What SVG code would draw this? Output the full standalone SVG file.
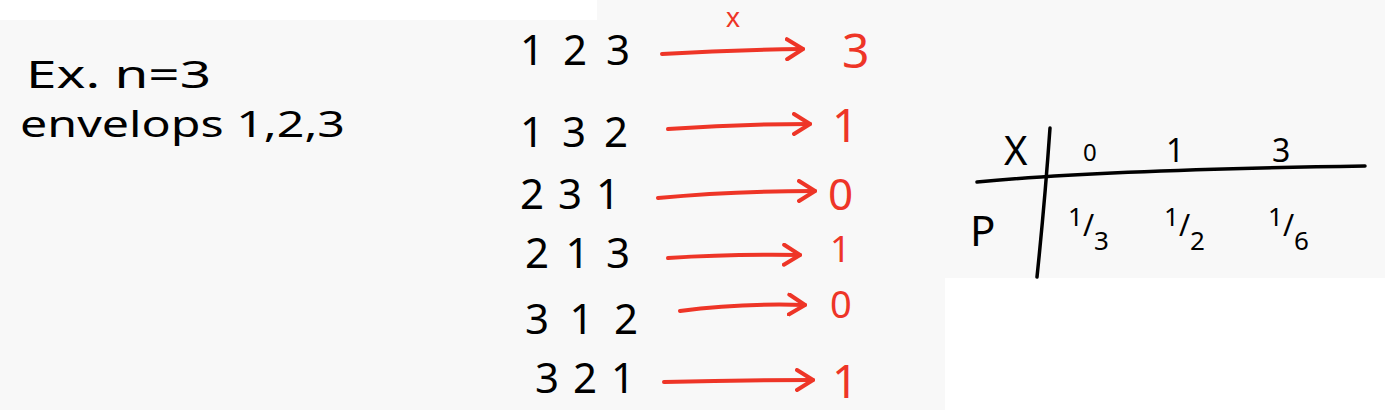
<svg xmlns="http://www.w3.org/2000/svg" width="1385" height="410" viewBox="0 0 1385 410">
<style>
.k{font-family:"Noto Sans","Liberation Sans",sans-serif;fill:#000}
.r{font-family:"Noto Sans","Liberation Sans",sans-serif;fill:#ee3527}
.a{fill:none;stroke:#ee3527;stroke-width:4;stroke-linecap:round}
.l{fill:none;stroke:#000;stroke-width:3.5;stroke-linecap:round}
</style>
<defs>
<marker id="h" viewBox="0 0 20 24" refX="18" refY="12" markerWidth="20" markerHeight="24" markerUnits="userSpaceOnUse" orient="auto">
<path d="M2,2 L18,12 L2,22" fill="none" stroke="#ee3527" stroke-width="4" stroke-linecap="round" stroke-linejoin="round"/>
</marker>
</defs>
<rect width="1385" height="410" fill="#f8f8f8"/>
<rect x="0" y="0" width="597" height="20" fill="#fff"/>
<rect x="945" y="278" width="440" height="132" fill="#fff"/>

<g id="intro">
<text class="k" x="26" y="88" font-size="38" textLength="185" lengthAdjust="spacingAndGlyphs">Ex. n=3</text>
<text class="k" x="20" y="137" font-size="36" textLength="325" lengthAdjust="spacingAndGlyphs">envelops 1,2,3</text>
</g>

<g id="perm-123"><text class="k" x="520" y="65" font-size="42" textLength="110" lengthAdjust="spacing">123</text></g>
<g id="perm-132"><text class="k" x="520" y="147" font-size="42" textLength="108" lengthAdjust="spacing">132</text></g>
<g id="perm-231"><text class="k" x="520" y="209" font-size="42" textLength="100" lengthAdjust="spacing">231</text></g>
<g id="perm-213"><text class="k" x="525" y="268" font-size="42" textLength="105" lengthAdjust="spacing">213</text></g>
<g id="perm-312"><text class="k" x="525" y="334" font-size="42" textLength="113" lengthAdjust="spacing">312</text></g>
<g id="perm-321"><text class="k" x="535" y="393" font-size="42" textLength="100" lengthAdjust="spacing">321</text></g>

<g id="val-1"><text class="r" x="842" y="68" font-size="48">3</text></g>
<g id="val-2"><text class="r" x="832" y="142" font-size="46">1</text></g>
<g id="val-3"><text class="r" x="828" y="210" font-size="44">0</text></g>
<g id="val-4"><text class="r" x="830" y="262" font-size="36">1</text></g>
<g id="val-5"><text class="r" x="830" y="318" font-size="38">0</text></g>
<g id="val-6"><text class="r" x="832" y="398" font-size="46">1</text></g>
<g id="label-x"><text x="726" y="27" font-size="28" font-family="Liberation Sans, sans-serif" fill="#ee3527">x</text></g>

<g id="connectors">
<path class="a" marker-end="url(#h)" d="M662,54 Q730,50 803,49"/>
<path class="a" marker-end="url(#h)" d="M668,129 Q740,124 810,124"/>
<path class="a" marker-end="url(#h)" d="M658,198 Q730,191 815,191"/>
<path class="a" marker-end="url(#h)" d="M668,258 Q730,254 800,255"/>
<path class="a" marker-end="url(#h)" d="M680,311 Q740,303 805,305"/>
<path class="a" marker-end="url(#h)" d="M664,382 Q740,380 813,380"/>
</g>

<g id="table">
<path class="l" d="M1050,128 Q1045,200 1037,277"/>
<path class="l" d="M977,182 Q1100,170 1365,166"/>
<text class="k" x="1004" y="165" font-size="40">X</text>
<text class="k" x="1083" y="161" font-size="24">0</text>
<text class="k" x="1166" y="162" font-size="32">1</text>
<text class="k" x="1272" y="162" font-size="32">3</text>
<text class="k" x="970" y="246" font-size="42">P</text>
<text class="k" x="1068" y="226" font-size="26">1<tspan dy="10" font-size="30">/</tspan><tspan dy="14">3</tspan></text>
<text class="k" x="1164" y="226" font-size="26">1<tspan dy="10" font-size="30">/</tspan><tspan dy="14">2</tspan></text>
<text class="k" x="1268" y="226" font-size="26">1<tspan dy="10" font-size="30">/</tspan><tspan dy="14">6</tspan></text>
</g>
</svg>
